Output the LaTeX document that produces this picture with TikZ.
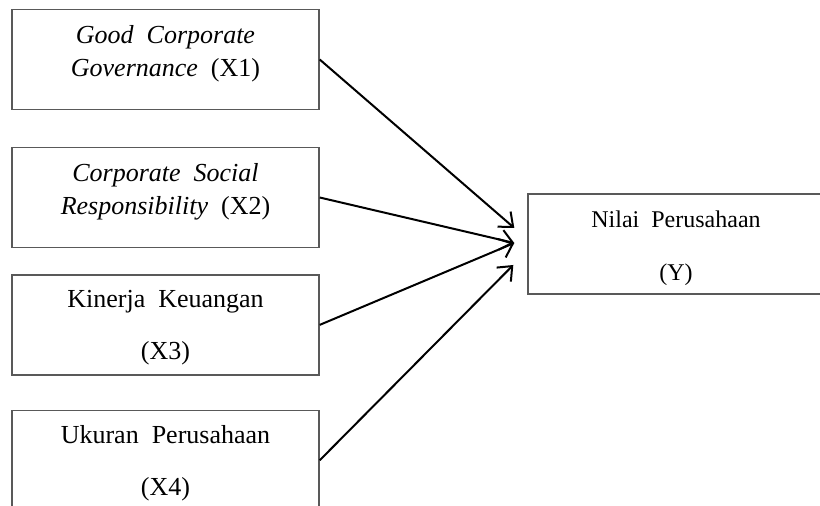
\documentclass[tikz,border=0pt]{standalone}
\usepackage{fontspec}
\setmainfont{Liberation Serif}
\usetikzlibrary{positioning, arrows.meta, calc}

\begin{document}
\begin{tikzpicture}[
        x=0.5pt, y=-0.5pt,
        node distance=17pt,
        box/.style={rectangle, draw=black!65, line width=0.7pt, minimum width=153.5pt, minimum height=50pt, align=center, font=\fontsize{13}{16.5}\selectfont},
        arrow/.style={-{Straight Barb[length=6pt, width=10pt]}, line width=1pt}
    ]

        % Frame of the picture
        \useasboundingbox (0,0) rectangle (820,506);
        \clip (0,0) rectangle (820,506);

        % Define nodes
        \node (gcg) [box, text depth=9pt] at (165.5,59.5) {\textit{Good\ \ Corporate}\\\textit{Governance}\ \ (X1)};
        \node (csr) [box, text depth=9pt, below=18.3pt of gcg] {\textit{Corporate\ \ Social}\\\textit{Responsibility}\ \ (X2)};
        \node (kinerja) [box, text depth=0pt, below=13pt of csr] {Kinerja\ \ Keuangan\\[9.5pt](X3)};
        \node (ukuran) [box, text depth=0pt, below=of kinerja] {Ukuran\ \ Perusahaan\\[9.5pt](X4)};
        \node (nilai) [box, minimum width=148pt, font=\fontsize{12}{16.5}\selectfont, text depth=0pt, text height=37pt] at (676,244) {Nilai\ \ Perusahaan\\[10pt](Y)};

        % Arrow tips in front of Y
        \coordinate (tip1) at ($(nilai.west)+(-13,-16)$);
        \coordinate (tip2) at ($(nilai.west)+(-13,-1)$);
        \coordinate (tip4) at ($(nilai.west)+(-14,21)$);

        % Draw arrows
        \draw [arrow] (gcg.east) -- (tip1);
        \draw [arrow] (csr.east) -- (tip2);
        \draw [arrow] (kinerja.east) -- (tip2);
        \draw [arrow] (ukuran.east) -- (tip4);
    \end{tikzpicture}
\end{document}
